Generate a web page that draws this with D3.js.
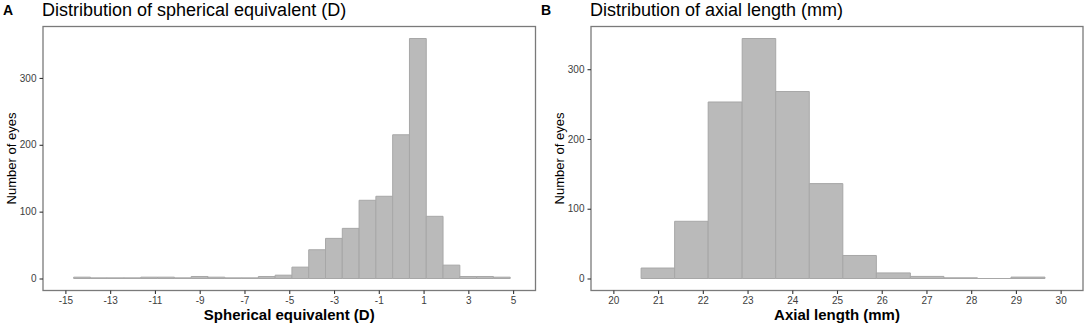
<!DOCTYPE html>
<html>
<head>
<meta charset="utf-8">
<script src="https://cdn.jsdelivr.net/npm/d3@7"></script>
<style>
  body { margin: 0; background: #fff; }
  svg { display: block; font-family: "Liberation Sans", Arial, sans-serif; }
</style>
</head>
<body>
<svg id="chart" width="1084" height="326"></svg>
<script>
(function() {

// spherical equivalent histogram (left panel)
const seEdges = [-14.63, -13.88, -13.13, -12.38, -11.63, -10.88, -10.13, -9.38, -8.63,
    -7.88, -7.13, -6.38, -5.63, -4.88, -4.13, -3.38, -2.63, -1.88, -1.13, -0.38,
    0.37, 1.12, 1.87, 2.62, 3.37, 4.12, 4.87];
const seCounts = [2, 1, 1, 1, 2, 2, 1, 3, 2, 1, 1, 3, 5, 17, 43, 60, 75, 117, 123, 215,
    359, 93, 20, 3, 3, 2];
const seTicksX = [-15, -13, -11, -9, -7, -5, -3, -1, 1, 3, 5];

// axial length histogram (right panel)
const alEdges = [20.62, 21.37, 22.12, 22.88, 23.63, 24.38, 25.13, 25.88, 26.64, 27.39,
    28.14, 28.89, 29.65];
const alCounts = [15, 82, 253, 344, 268, 136, 33, 8, 3, 1, 0, 2];
const alTicksX = [20, 21, 22, 23, 24, 25, 26, 27, 28, 29, 30];

const countTicks = [0, 100, 200, 300];

const barFill = "#bababa";
const barStroke = "#a7a7a7";

const svg = d3.select("#chart");

const top = 26.5, bottom = 290.5;

function toBins(edges, counts) {
    return counts.map((c, i) => ({ x0: edges[i], x1: edges[i + 1], c: c }));
}

function drawPanel(opt) {
    const data = toBins(opt.edges, opt.counts);
    const maxC = d3.max(data, d => d.c);
    const pad = maxC * 0.05;

    const x = d3.scaleLinear().domain(opt.xDomain).range([opt.left, opt.right]);
    const y = d3.scaleLinear().domain([-pad, maxC + pad]).range([bottom, top]);

    const g = svg.append("g");

    // bars as closed paths so empty bins still show their outline
    g.selectAll(".bar")
        .data(data)
        .enter().append("path")
        .attr("class", "bar")
        .attr("d", d => `M${x(d.x0)},${y(0)}V${y(d.c)}H${x(d.x1)}V${y(0)}Z`)
        .attr("fill", barFill)
        .attr("stroke", barStroke)
        .attr("stroke-width", 1);

    // panel border
    g.append("rect")
        .attr("x", opt.left)
        .attr("y", top)
        .attr("width", opt.right - opt.left)
        .attr("height", bottom - top)
        .attr("fill", "none")
        .attr("stroke", "#7a7a7a")
        .attr("stroke-width", 1.3);

    // X-axis
    const ax = g.append("g")
        .attr("transform", `translate(0,${bottom})`)
        .call(d3.axisBottom(x).tickValues(opt.xTicks).tickSize(3.5).tickSizeOuter(0).tickPadding(2.5).tickFormat(d3.format("d")));
    ax.select(".domain").remove();

    // Y-axis
    const ay = g.append("g")
        .attr("transform", `translate(${opt.left},0)`)
        .call(d3.axisLeft(y).tickValues(countTicks).tickSize(3.5).tickSizeOuter(0).tickPadding(3));
    ay.select(".domain").remove();

    [ax, ay].forEach(a => {
        a.selectAll(".tick line").attr("stroke", "#333").attr("stroke-width", 1.1);
        a.selectAll(".tick text")
            .attr("fill", "#3d3d3d")
            .attr("font-size", "10px")
            .attr("font-family", "Liberation Sans, Arial, sans-serif");
    });
    ax.selectAll(".tick text").text(d => d < 0 ? "-" + Math.abs(d) : d);

    // axis titles
    g.append("text")
        .attr("x", (opt.left + opt.right) / 2)
        .attr("y", 320)
        .attr("text-anchor", "middle")
        .attr("font-size", "15px")
        .attr("font-weight", "bold")
        .attr("fill", "black")
        .text(opt.xTitle);

    g.append("text")
        .attr("transform", `translate(${opt.left - 27},${(top + bottom) / 2}) rotate(-90)`)
        .attr("text-anchor", "middle")
        .attr("font-size", "13px")
        .attr("fill", "black")
        .text("Number of eyes");

    // panel title and tag
    g.append("text")
        .attr("x", opt.left - 1)
        .attr("y", 16)
        .attr("font-size", "18px")
        .attr("fill", "black")
        .text(opt.title);

    g.append("text")
        .attr("x", opt.tagX)
        .attr("y", 15)
        .attr("font-size", "14px")
        .attr("font-weight", "bold")
        .attr("fill", "black")
        .text(opt.tag);
}

drawPanel({
    edges: seEdges, counts: seCounts, xTicks: seTicksX,
    xDomain: [-16, 6], left: 43, right: 535.5,
    xTitle: "Spherical equivalent (D)",
    title: "Distribution of spherical equivalent (D)",
    tag: "A", tagX: 3
});

drawPanel({
    edges: alEdges, counts: alCounts, xTicks: alTicksX,
    xDomain: [19.5, 30.5], left: 591, right: 1083,
    xTitle: "Axial length (mm)",
    title: "Distribution of axial length (mm)",
    tag: "B", tagX: 541
});

})();
</script>
</body>
</html>
